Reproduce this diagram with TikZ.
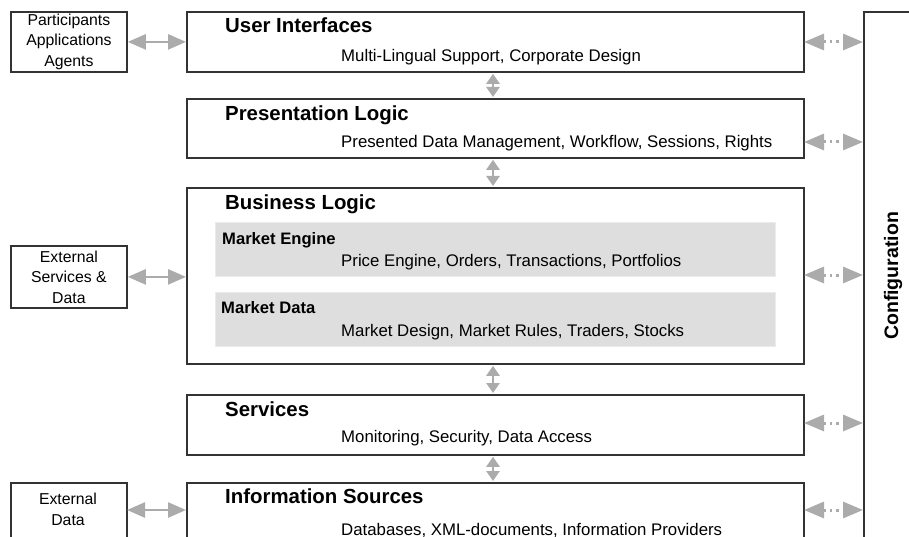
\documentclass[tikz,border=0pt]{standalone}
\usepackage{fontspec}
\setmainfont{Liberation Sans}
\usetikzlibrary{arrows.meta,calc}
\begin{document}
\begin{tikzpicture}[x=1pt,y=-1pt,
  layer/.style={draw=black!80,line width=1.8pt,fill=white,inner sep=0pt,minimum width=617pt,anchor=north west},
  side/.style={draw=black!80,line width=1.8pt,fill=white,inner sep=0pt,minimum width=116pt,anchor=north west,align=center,font=\fontsize{15.8}{20.5}\selectfont},
  sub/.style={fill=black!13,draw=black!8,line width=0.6pt,inner sep=0pt,minimum width=560pt,minimum height=54pt,anchor=north west},
  ttl/.style={font=\fontsize{20.4}{24}\selectfont\bfseries,anchor=base west,inner sep=0pt},
  stl/.style={font=\fontsize{16.6}{19}\selectfont\bfseries,anchor=base west,inner sep=0pt},
  txt/.style={font=\fontsize{16.8}{20}\selectfont,anchor=base west,inner sep=0pt},
  garrow/.style={draw=black!33,line width=2.5pt,{Triangle[length=18pt,width=15pt]}-{Triangle[length=18pt,width=15pt]}},
  darrow/.style={draw=black!33,line width=3pt,dash pattern=on 2.5pt off 4pt,{Triangle[length=20pt,width=16pt]}-{Triangle[length=20pt,width=16pt]}},
  varrow/.style={draw=black!33,line width=2.5pt,{Triangle[length=10pt,width=13pt]}-{Triangle[length=10pt,width=13pt]},shorten <=1pt,shorten >=1pt}
]
\useasboundingbox (0,0) rectangle (909,537);
\clip (0,0) rectangle (909,537);
% layers
\node[layer,minimum height=60pt] (ui) at (186,11) {};
\node[layer,minimum height=59pt] (pl) at (186,98) {};
\node[layer,minimum height=176pt] (bl) at (186,187) {};
\node[sub] (me) at (215,222) {};
\node[sub] (md) at (215,292) {};
\node[layer,minimum height=60pt] (sv) at (186,394) {};
\node[layer,minimum height=90pt] (is) at (186,482) {};
% side boxes
\node[side,minimum height=60pt] (pa) at (10,11) {Participants\\Applications\\Agents};
\node[side,minimum height=62pt] (es) at (10,245) {External\\Services \&\\Data};
\node[side,minimum height=70pt] (ed) at (10,482) {};
\node[font=\fontsize{15.8}{21}\selectfont,align=center,inner sep=0pt] (edt) at (68,509) {External\\Data};
\node[draw=black!80,line width=1.8pt,fill=white,inner sep=0pt,minimum width=70pt,minimum height=560pt,anchor=north west] (cf) at (863,11) {};
\node[font=\fontsize{19.5}{22}\selectfont\bfseries,rotate=90,inner sep=0pt] (cft) at (893,276) {Configuration};
% texts
\node[ttl] (uit) at (225,33) {User Interfaces};
\node[txt] (uis) at (341,62) {Multi-Lingual Support, Corporate Design};
\node[ttl] (plt) at (225,121) {Presentation Logic};
\node[txt] (pls) at (341,148) {Presented Data Management, Workflow, Sessions, Rights};
\node[ttl] (blt) at (225,210) {Business Logic};
\node[stl] (met) at (222,244) {Market Engine};
\node[txt] (mes) at (341,266) {Price Engine, Orders, Transactions, Portfolios};
\node[stl] (mdt) at (221,313) {Market Data};
\node[txt] (mds) at (341,336) {Market Design, Market Rules, Traders, Stocks};
\node[ttl] (svt) at (225,416) {Services};
\node[txt] (svs) at (341,442) {Monitoring, Security, Data Access};
\node[ttl] (ist) at (225,503) {Information Sources};
\node[txt] (iss) at (341,535) {Databases, XML-documents, Information Providers};
% left arrows
\draw[garrow] (pa.east) -- (pa.east -| ui.west);
\draw[garrow] (es.east) -- (es.east -| bl.west);
\coordinate (edr) at (127,510);
\draw[garrow] (edr) -- (edr -| is.west);
% right arrows
\coordinate (r1) at (804,42);
\coordinate (r2) at (804,142);
\coordinate (r3) at (804,275);
\coordinate (r4) at (804,423);
\coordinate (r5) at (804,510);
\foreach \r in {r1,r2,r3,r4,r5}{\draw[darrow] (\r) -- (\r -| cf.west);}
% vertical arrows
\coordinate (vx) at (493,0);
\draw[varrow] (vx |- ui.south) -- (vx |- pl.north);
\draw[varrow] (vx |- pl.south) -- (vx |- bl.north);
\draw[varrow] (vx |- bl.south) -- (vx |- sv.north);
\draw[varrow] (vx |- sv.south) -- (vx |- is.north);
\end{tikzpicture}
\end{document}
